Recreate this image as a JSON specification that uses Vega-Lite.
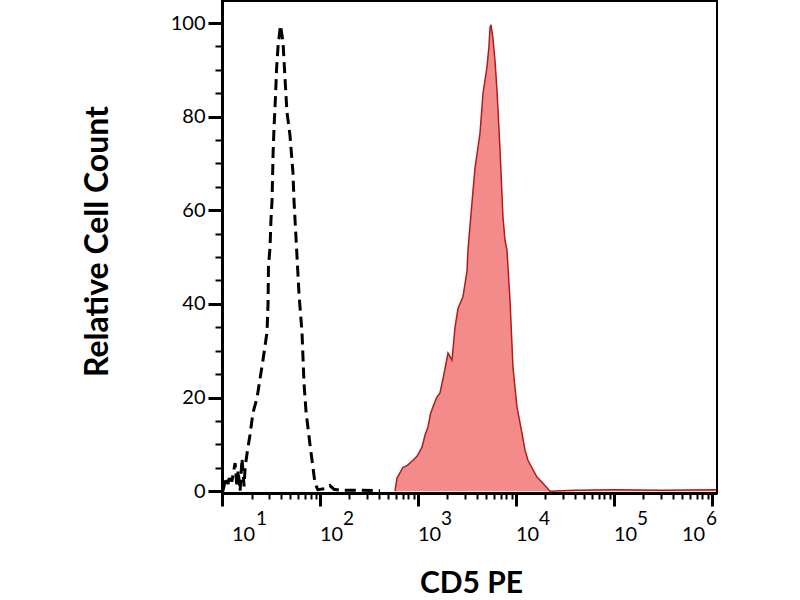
{
  "$schema": "https://vega.github.io/schema/vega-lite/v6.json",
  "autosize": {"type": "none"},
  "width": 495,
  "height": 492,
  "padding": {"left": 222, "top": 1, "right": 83, "bottom": 107},
  "background": "white",
  "config": {"view": {"stroke": "black", "strokeWidth": 2}, "font": "Lato"},
  "datasets": {
    "cd5": [
      {"intensity": 582, "count": 0},
      {"intensity": 611, "count": 2.8},
      {"intensity": 650, "count": 3.8},
      {"intensity": 703, "count": 5.1},
      {"intensity": 780, "count": 5.5},
      {"intensity": 889, "count": 6.6},
      {"intensity": 980, "count": 7.5},
      {"intensity": 1099, "count": 9.4},
      {"intensity": 1180, "count": 12},
      {"intensity": 1265, "count": 13.7},
      {"intensity": 1340, "count": 16.5},
      {"intensity": 1422, "count": 18},
      {"intensity": 1550, "count": 20},
      {"intensity": 1676, "count": 21},
      {"intensity": 1800, "count": 24},
      {"intensity": 2024, "count": 29.5},
      {"intensity": 2223, "count": 28},
      {"intensity": 2387, "count": 35},
      {"intensity": 2559, "count": 39},
      {"intensity": 2877, "count": 41.5},
      {"intensity": 3162, "count": 47},
      {"intensity": 3236, "count": 51.5},
      {"intensity": 3500, "count": 60},
      {"intensity": 3817, "count": 69},
      {"intensity": 4295, "count": 76.5},
      {"intensity": 4607, "count": 85},
      {"intensity": 5058, "count": 90.6},
      {"intensity": 5300, "count": 95},
      {"intensity": 5431, "count": 99},
      {"intensity": 5559, "count": 99.6},
      {"intensity": 5800, "count": 97},
      {"intensity": 6106, "count": 92},
      {"intensity": 6397, "count": 85.7},
      {"intensity": 6870, "count": 73},
      {"intensity": 7367, "count": 58.5},
      {"intensity": 7721, "count": 53.6},
      {"intensity": 8091, "count": 51.5},
      {"intensity": 8689, "count": 40.8},
      {"intensity": 9310, "count": 26.5},
      {"intensity": 10233, "count": 18},
      {"intensity": 11508, "count": 12.4},
      {"intensity": 12351, "count": 8.8},
      {"intensity": 13251, "count": 6.6},
      {"intensity": 16368, "count": 3},
      {"intensity": 18859, "count": 1.7},
      {"intensity": 22233, "count": 0},
      {"intensity": 40000, "count": 0.2},
      {"intensity": 100000, "count": 0.3},
      {"intensity": 300000, "count": 0.2},
      {"intensity": 1100000, "count": 0.3}
    ],
    "isotype": [
      {"intensity": 10.2, "count": 0},
      {"intensity": 11.0, "count": 3},
      {"intensity": 11.5, "count": 1.5},
      {"intensity": 12.1, "count": 3.5},
      {"intensity": 12.6, "count": 2},
      {"intensity": 13.6, "count": 6},
      {"intensity": 14.2, "count": 1},
      {"intensity": 14.6, "count": 4.5},
      {"intensity": 15.3, "count": 0},
      {"intensity": 16.0, "count": 7},
      {"intensity": 16.8, "count": 1},
      {"intensity": 17.2, "count": 5},
      {"intensity": 18.0, "count": 8},
      {"intensity": 19.3, "count": 12},
      {"intensity": 20.7, "count": 16.7},
      {"intensity": 22.8, "count": 20},
      {"intensity": 26.2, "count": 28},
      {"intensity": 28.8, "count": 34},
      {"intensity": 29.5, "count": 40},
      {"intensity": 29.8, "count": 48},
      {"intensity": 30.9, "count": 52},
      {"intensity": 31.6, "count": 58},
      {"intensity": 32.4, "count": 62},
      {"intensity": 33.2, "count": 72},
      {"intensity": 34.0, "count": 78},
      {"intensity": 35.1, "count": 84},
      {"intensity": 36.0, "count": 90},
      {"intensity": 37.3, "count": 95},
      {"intensity": 39.5, "count": 99.5},
      {"intensity": 41.9, "count": 96},
      {"intensity": 44.0, "count": 88},
      {"intensity": 46.0, "count": 81},
      {"intensity": 49.4, "count": 76},
      {"intensity": 53.0, "count": 68},
      {"intensity": 54.3, "count": 62},
      {"intensity": 58.3, "count": 50},
      {"intensity": 61.1, "count": 42},
      {"intensity": 65.5, "count": 34},
      {"intensity": 68.7, "count": 23},
      {"intensity": 72.0, "count": 17},
      {"intensity": 79.0, "count": 10},
      {"intensity": 88.9, "count": 1.7},
      {"intensity": 95, "count": 0.3},
      {"intensity": 112, "count": 0.5},
      {"intensity": 126, "count": 1.2},
      {"intensity": 139, "count": 0.4},
      {"intensity": 160, "count": 0.2},
      {"intensity": 256, "count": 0.2},
      {"intensity": 409, "count": 0.1}
    ]
  },
  "resolve": {"axis": {"x": "independent", "y": "independent"}},
  "layer": [
    {
      "data": {"name": "cd5"},
      "mark": {"type": "area", "color": "#f38b8b", "opacity": 1},
      "encoding": {
        "x": {
          "field": "intensity", "type": "quantitative",
          "scale": {"type": "log", "domain": [10, 1125000], "nice": false},
          "axis": {
            "orient": "bottom",
            "values": [10, 100, 1000, 10000, 100000, 1000000],
            "labelExpr": "'10'",
            "tickSize": 13, "tickWidth": 3, "tickColor": "black",
            "domainColor": "black", "domainWidth": 3,
            "labelFont": "Lato", "labelFontSize": 20, "labelColor": "black",
            "labelPadding": 18, "labelFlush": false, "labelOverlap": false,
            "labelAlign": "center", "labelBaseline": "top",
            "labelOffset": {"condition": [{"test": "datum.value < 11", "value": 21}, {"test": "datum.value > 900000", "value": -19}], "value": 11},
            "grid": false, "zindex": 1,
            "title": "CD5 PE", "titleFont": "Lato", "titleFontSize": 30, "titleFontWeight": "bold", "titleColor": "black",
            "titleX": 249, "titleY": 99, "titleBaseline": "alphabetic", "titleAlign": "center"
          }
        },
        "y": {
          "field": "count", "type": "quantitative",
          "scale": {"domain": [-0.4, 104.7], "nice": false, "zero": false},
          "axis": {
            "orient": "left",
            "values": [0, 20, 40, 60, 80, 100],
            "tickSize": 14, "tickWidth": 3, "tickColor": "black",
            "domainColor": "black", "domainWidth": 3,
            "labelFont": "Lato", "labelFontSize": 20, "labelColor": "black",
            "labelPadding": 3, "labelFlush": false, "labelOverlap": false,
            "grid": false, "zindex": 1,
            "title": "Relative Cell Count", "titleFont": "Lato", "titleFontSize": 32, "titleFontWeight": "bold", "titleColor": "black",
            "titleX": -115, "titleY": 240, "titleBaseline": "alphabetic", "titleAlign": "center", "titleAngle": -90
          }
        }
      }
    },
    {
      "data": {"name": "cd5"},
      "mark": {"type": "line", "color": "#b01c1c", "strokeWidth": 1.5},
      "encoding": {
        "x": {
          "field": "intensity", "type": "quantitative",
          "axis": {
            "orient": "bottom",
            "values": [20, 30, 40, 50, 60, 70, 80, 90, 200, 300, 400, 500, 600, 700, 800, 900, 2000, 3000, 4000, 5000, 6000, 7000, 8000, 9000, 20000, 30000, 40000, 50000, 60000, 70000, 80000, 90000, 200000, 300000, 400000, 500000, 600000, 700000, 800000, 900000],
            "labels": false, "domain": false, "grid": false,
            "tickSize": 6, "tickWidth": 2, "tickColor": "black",
            "title": null, "zindex": 1
          }
        },
        "y": {
          "field": "count", "type": "quantitative",
          "axis": {
            "orient": "left",
            "values": [5, 10, 15, 25, 30, 35, 45, 50, 55, 65, 70, 75, 85, 90, 95],
            "labels": false, "domain": false, "grid": false,
            "tickSize": 7, "tickWidth": 2, "tickColor": "black",
            "title": null, "zindex": 1
          }
        }
      }
    },
    {
      "data": {"name": "isotype"},
      "mark": {"type": "line", "color": "black", "strokeWidth": 3, "strokeDash": [11, 6]},
      "encoding": {
        "x": {
          "field": "intensity", "type": "quantitative",
          "axis": {
            "orient": "bottom",
            "values": [10, 100, 1000, 10000, 100000, 1000000],
            "labelExpr": "'' + round(log(datum.value) / LN10)",
            "ticks": false, "tickSize": 0, "domain": false, "grid": false,
            "labelFont": "Lato", "labelFontSize": 19, "labelColor": "black",
            "labelPadding": 16, "labelFlush": false, "labelOverlap": false,
            "labelAlign": "center", "labelBaseline": "top",
            "labelOffset": {"condition": [{"test": "datum.value < 11", "value": 39}, {"test": "datum.value > 900000", "value": -1}], "value": 28},
            "title": null, "zindex": 1
          }
        },
        "y": {"field": "count", "type": "quantitative", "axis": null}
      }
    }
  ]
}
